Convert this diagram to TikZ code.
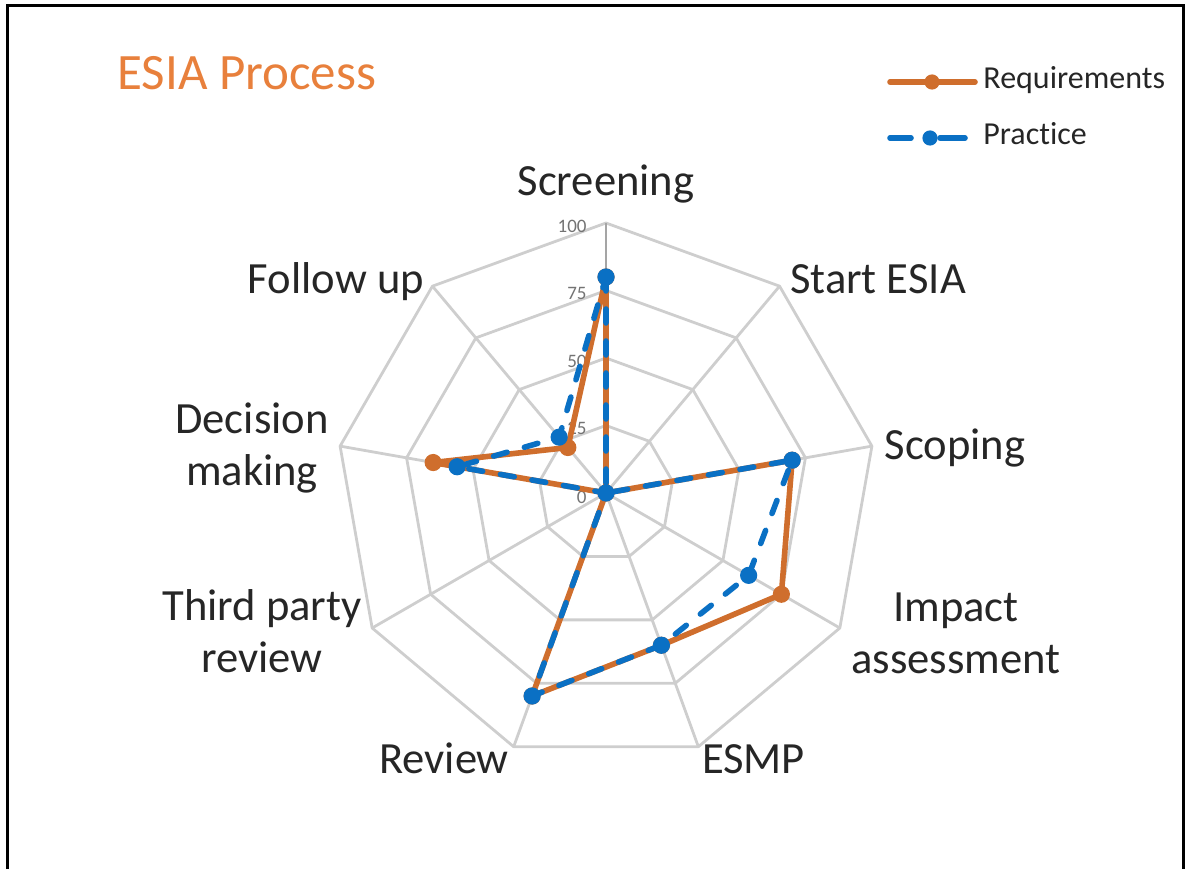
\documentclass[tikz,border=0pt]{standalone}
\usepackage{fontspec}
\setmainfont{Carlito}[Ligatures=NoCommon]
\usepackage{tikz}
\definecolor{reqorange}{RGB}{207,110,45}
\definecolor{titleorange}{RGB}{232,128,60}
\definecolor{pracblue}{RGB}{10,112,196}
\definecolor{webgray}{RGB}{206,206,206}
\definecolor{axisgray}{RGB}{165,165,165}

\begin{document}
\begin{tikzpicture}[x=0.5pt,y=0.5pt]
					\tikzstyle{webline}=[draw=webgray,line width=1.4pt,line join=round]
					\tikzstyle{category}=[font=\fontsize{22.3}{26}\selectfont,text=black!85,inner sep=0pt,align=center]
					\tikzstyle{ticklabel}=[font=\fontsize{9.5}{11}\selectfont,text=black!55,inner sep=0pt,anchor=east]
					\tikzstyle{reqline}=[draw=reqorange,line width=2.8pt,line join=round]
					\tikzstyle{pracline}=[draw=pracblue,line width=2.8pt,line join=round,line cap=round,dash pattern=on 7pt off 9pt]
					\tikzstyle{legendtext}=[font=\fontsize{16}{19}\selectfont,text=black!85,inner sep=0pt,anchor=base west]
					\useasboundingbox (0,0) rectangle (1186,869);
					% frame
					\draw[line width=1.5pt] (7,0) -- (7,863) -- (1183,863) -- (1183,0);
					% title and legend
					\node[font=\fontsize{25.5}{30}\selectfont,text=titleorange,inner sep=0pt,anchor=base west] (title) at (117,779) {ESIA Process};
					\draw[reqorange,line width=2.8pt,line cap=round] (890,787) -- (975,787);
					\fill[reqorange] (932,787) circle (3.8pt);
					\node[legendtext] (leg1) at (983,780) {Requirements};
					\draw[pracblue,line width=2.8pt,line cap=round] (890,731) -- (911,731);
					\draw[pracblue,line width=2.8pt,line cap=round] (940,731) -- (965,731);
					\fill[pracblue] (930,731) circle (3.8pt);
					\node[legendtext] (leg2) at (983,724) {Practice};
					\begin{scope}[shift={(606,376)}]
					% web
					\draw[webline] (90:67.5) -- (50:67.5) -- (10:67.5) -- (-30:67.5) -- (-70:67.5) -- (-110:67.5) -- (-150:67.5) -- (170:67.5) -- (130:67.5) -- cycle;
					\draw[webline] (90:135) -- (50:135) -- (10:135) -- (-30:135) -- (-70:135) -- (-110:135) -- (-150:135) -- (170:135) -- (130:135) -- cycle;
					\draw[webline] (90:202.5) -- (50:202.5) -- (10:202.5) -- (-30:202.5) -- (-70:202.5) -- (-110:202.5) -- (-150:202.5) -- (170:202.5) -- (130:202.5) -- cycle;
					\draw[webline] (90:270) -- (50:270) -- (10:270) -- (-30:270) -- (-70:270) -- (-110:270) -- (-150:270) -- (170:270) -- (130:270) -- cycle;
					\draw[webline] (0,0) -- (50:270);
					\draw[webline] (0,0) -- (10:270);
					\draw[webline] (0,0) -- (-30:270);
					\draw[webline] (0,0) -- (-70:270);
					\draw[webline] (0,0) -- (-110:270);
					\draw[webline] (0,0) -- (-150:270);
					\draw[webline] (0,0) -- (170:270);
					\draw[webline] (0,0) -- (130:270);
					\draw[webline,draw=axisgray] (0,0) -- (90:270);
					\node[ticklabel] (t0) at (-19,-4) {0};
					\node[ticklabel] (t25) at (-19,64.5) {25};
					\node[ticklabel] (t50) at (-19,132) {50};
					\node[ticklabel] (t75) at (-19,199.5) {75};
					\node[ticklabel] (t100) at (-19,267) {100};
					% categories
					\node[category,anchor=base] (screening) at (0,298) {Screening};
					\node[category,anchor=base] (start) at (272,200) {Start ESIA};
					\node[category,anchor=base] (scoping) at (349,34) {Scoping};
					\node[category,anchor=north] (impact) at (350,-99) {Impact\\assessment};
					\node[category,anchor=base] (esmp) at (147.5,-280) {ESMP};
					\node[category,anchor=base] (review) at (-162,-280) {Review};
					\node[category,anchor=north] (third) at (-344,-96) {Third party\\review};
					\node[category,anchor=north] (decision) at (-354,91) {Decision\\making};
					\node[category,anchor=base] (follow) at (-270,200) {Follow up};
					% requirements
					\coordinate (r1) at (90:216);
					\coordinate (r2) at (0,0);
					\coordinate (r3) at (10:189);
					\coordinate (r4) at (-30:202.5);
					\coordinate (r5) at (-70:162);
					\coordinate (r6) at (-110:216);
					\coordinate (r7) at (0,0);
					\coordinate (r8) at (170:175.5);
					\coordinate (r9) at (130:59.4);
					\draw[reqline] (r1) -- (r2) -- (r3) -- (r4) -- (r5) -- (r6) -- (r7) -- (r8) -- (r9) -- cycle;
					\fill[reqorange] (r1) circle (4.3pt);
					\fill[reqorange] (r2) circle (4.3pt);
					\fill[reqorange] (r3) circle (4.3pt);
					\fill[reqorange] (r4) circle (4.3pt);
					\fill[reqorange] (r5) circle (4.3pt);
					\fill[reqorange] (r6) circle (4.3pt);
					\fill[reqorange] (r8) circle (4.3pt);
					\fill[reqorange] (r9) circle (4.3pt);
					% practice
					\coordinate (p1) at (90:216);
					\coordinate (p2) at (0,0);
					\coordinate (p3) at (10:189);
					\coordinate (p4) at (-30:164.7);
					\coordinate (p5) at (-70:162);
					\coordinate (p6) at (-110:216);
					\coordinate (p7) at (0,0);
					\coordinate (p8) at (170:151.2);
					\coordinate (p9) at (130:72.9);
					\draw[pracline] (p1) -- (p2) -- (p3) -- (p4) -- (p5) -- (p6) -- (p7) -- (p8) -- (p9) -- cycle;
					\fill[pracblue] (p1) circle (4.3pt);
					\fill[pracblue] (p2) circle (4.3pt);
					\fill[pracblue] (p3) circle (4.3pt);
					\fill[pracblue] (p4) circle (4.3pt);
					\fill[pracblue] (p5) circle (4.3pt);
					\fill[pracblue] (p6) circle (4.3pt);
					\fill[pracblue] (p8) circle (4.3pt);
					\fill[pracblue] (p9) circle (4.3pt);
					\end{scope}
					\end{tikzpicture}
\end{document}
